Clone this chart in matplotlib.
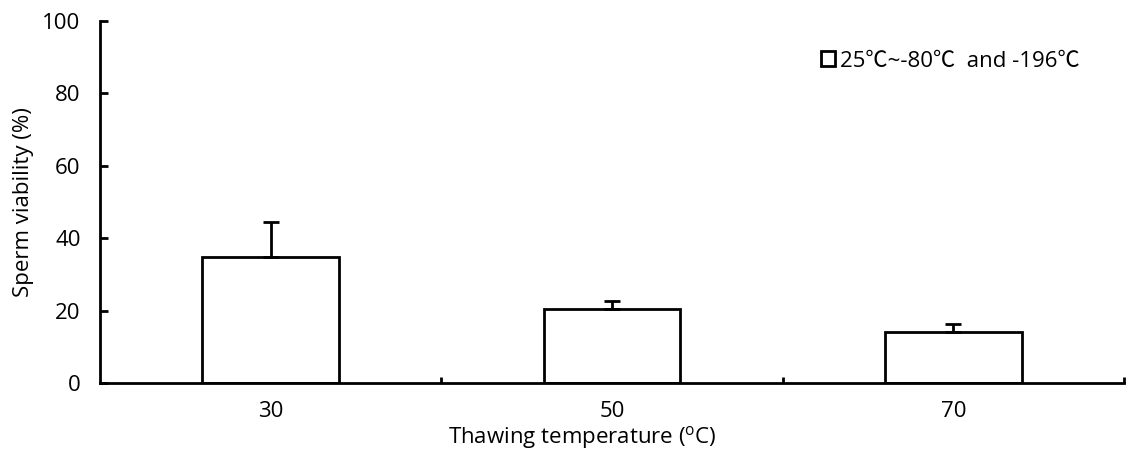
import matplotlib
matplotlib.use("Agg")
import matplotlib.pyplot as plt
from matplotlib.patches import Patch

categories = ["30", "50", "70"]
viability = [34.9, 20.4, 14.0]
err_upper = [9.5, 2.3, 2.4]
series_label = "25℃~-80℃  and -196℃"

plt.rcParams['font.family'] = ['Open Sans', 'Noto Sans CJK SC', 'DejaVu Sans']
plt.rcParams['mathtext.fontset'] = 'custom'
plt.rcParams['mathtext.rm'] = 'Open Sans'

FS = 16

fig = plt.figure(figsize=(11.29, 4.59), dpi=100)
ax = fig.add_axes([100/1129, 1-383/459, 1024/1129, 362/459])

x = list(range(len(categories)))
ax.bar(x, viability, width=0.40, color='white', edgecolor='black', linewidth=2.0,
       yerr=[[0]*len(x), err_upper],
       error_kw=dict(ecolor='black', elinewidth=2.0, capsize=5.8, capthick=2.0),
       zorder=2)

ax.set_xlim(-0.5, 2.5)
ax.set_ylim(0, 100)
ax.set_yticks([0, 20, 40, 60, 80, 100])
ax.set_xticks(x)
ax.set_xticklabels(categories)
ax.set_xticks([0.5, 1.5, 2.5], minor=True)
ax.tick_params(axis='x', which='major', length=0, pad=13, labelsize=FS)
ax.tick_params(axis='x', which='minor', direction='in', length=4, width=2)
ax.tick_params(axis='y', direction='in', length=6, width=2, pad=14, labelsize=FS)

for s in ['top', 'right']:
    ax.spines[s].set_visible(False)
for s in ['left', 'bottom']:
    ax.spines[s].set_linewidth(2)

ax.set_ylabel("Sperm viability (%)", fontsize=FS, labelpad=6)
ax.set_xlabel("Thawing temperature ($^{\\rm o}$C)", fontsize=FS)
ax.xaxis.set_label_coords(0.4715, -0.114)

handle = Patch(facecolor='white', edgecolor='black', linewidth=2)
ax.legend([handle], [series_label + " "], loc='center right', bbox_to_anchor=(0.962, 0.889),
          frameon=False, fontsize=FS, handlelength=0.65, handleheight=0.65,
          handletextpad=0.2, borderpad=0, borderaxespad=0)

fig.savefig("out.png", dpi=100)
